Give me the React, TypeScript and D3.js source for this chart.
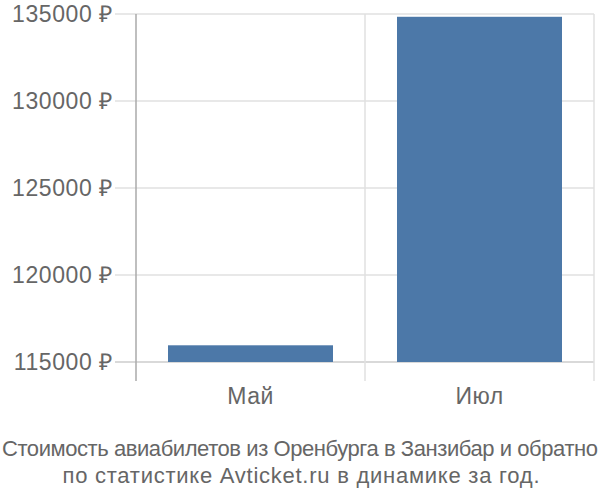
import React from "react";
import * as d3 from "d3";

const categories = ["Май", "Июл"];
const values = [115960, 134840];
const yTicks = [115000, 120000, 125000, 130000, 135000];
const titleLines = [
  "Стоимость авиабилетов из Оренбурга в Занзибар и обратно",
  "по статистике Avticket.ru в динамике за год.",
];

export default function App() {
  const W = 600, H = 500;
  const left = 136, right = 594, top = 14, bottom = 362;
  const x = d3.scaleBand<string>().domain(categories).range([left, right]).paddingInner(0).paddingOuter(0);
  const y = d3.scaleLinear().domain([115000, 135000]).range([bottom, top]);
  const barPad = 32;
  const font = "'Liberation Sans', Arial, sans-serif";
  const grey = "#666";
  const titleWidths = [596, 477];
  return (
    <svg width={W} height={H} style={{ position: "absolute", left: 0, top: 0 }} fontFamily={font}>
      {yTicks.map((t) => (
        <g key={t}>
          <line x1={115} x2={right} y1={y(t)} y2={y(t)} stroke={t === 115000 ? "#ccc" : "#e0e0e0"} strokeWidth={1.5} />
          <text x={113} y={y(t)} dy="0.35em" textAnchor="end" fontSize={23} letterSpacing={0.6} fill={grey}>
            {t} ₽
          </text>
        </g>
      ))}
      {categories.map((c) => (
        <line key={"v" + c} x1={(x(c) as number) + x.bandwidth()} x2={(x(c) as number) + x.bandwidth()} y1={top} y2={381} stroke="#e0e0e0" strokeWidth={1.5} />
      ))}
      <line x1={left} x2={left} y1={top} y2={381} stroke="#aaa" strokeWidth={1.5} />
      {categories.map((c, i) => (
        <rect key={c} x={(x(c) as number) + barPad} width={x.bandwidth() - 2 * barPad} y={y(values[i])} height={bottom - y(values[i])} fill="#4c78a8" />
      ))}
      {categories.map((c) => (
        <text key={"l" + c} x={(x(c) as number) + x.bandwidth() / 2} y={404} textAnchor="middle" fontSize={23} letterSpacing={0.5} fill={grey}>
          {c}
        </text>
      ))}
      {titleLines.map((l, i) => (
        <text key={i} x={300 - titleWidths[i] / 2 + (i === 0 ? 0 : 1)} y={456 + i * 27} fontSize={22} fill={grey}
          textLength={titleWidths[i]} lengthAdjust="spacing">
          {l}
        </text>
      ))}
    </svg>
  );
}
